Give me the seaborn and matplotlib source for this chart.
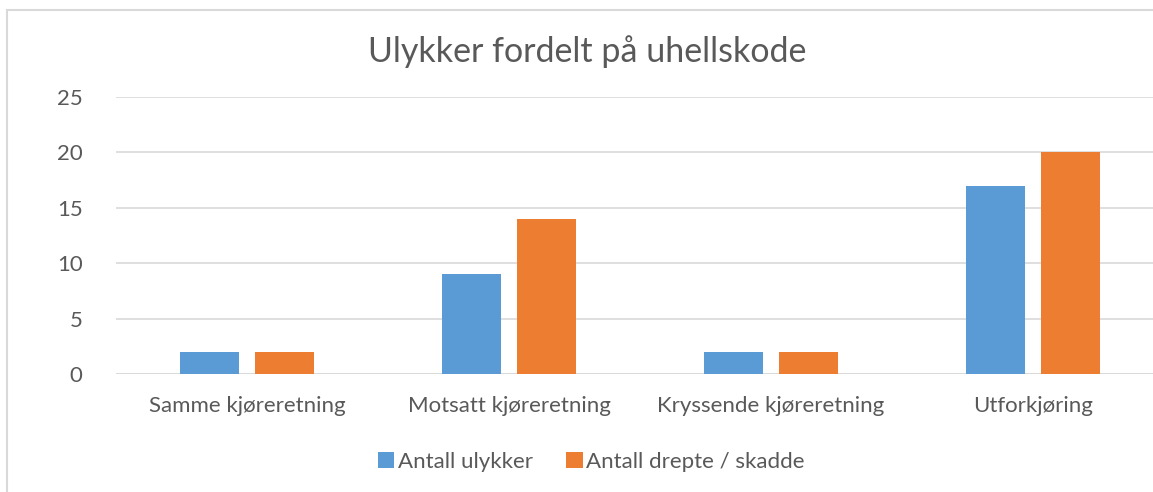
import matplotlib
matplotlib.use("Agg")
import matplotlib.pyplot as plt
from matplotlib.patches import Rectangle
import seaborn as sns
import pandas as pd

categories = ["Samme kjøreretning", "Motsatt kjøreretning", "Kryssende kjøreretning", "Utforkjøring"]
series_names = ["Antall ulykker", "Antall drepte / skadde"]
antall_ulykker = [2, 9, 2, 17]
antall_drepte_skadde = [2, 14, 2, 20]
y_ticks = [0, 5, 10, 15, 20, 25]

df = pd.DataFrame({
    "kategori": categories * 2,
    "serie": [series_names[0]] * 4 + [series_names[1]] * 4,
    "verdi": antall_ulykker + antall_drepte_skadde,
})

sns.set_style("white")
plt.rcParams["font.family"] = ["Lato", "DejaVu Sans"]
text_color = "#595959"

fig = plt.figure(figsize=(11.53, 4.92), dpi=100)
W, H = 1153, 492
# chart frame (cropped at right/bottom edge like the reference)
fig.patches.append(Rectangle((7 / W, -0.1), 1.2, 1 - 10 / H + 0.1, transform=fig.transFigure,
                             fill=False, edgecolor="#d9d9d9", linewidth=1.5))

ax = fig.add_axes([116 / W, 1 - 374 / H, 1048 / W, 277 / H])
sns.barplot(data=df, x="kategori", y="verdi", hue="serie", ax=ax,
            palette=["#5b9bd5", "#ed7d31"], width=0.57, gap=0.21, saturation=1,
            linewidth=0, edgecolor="none")

ax.set_ylim(0, 25)
ax.set_yticks(y_ticks)
ax.set_xlim(-0.5, 3.5)
ax.yaxis.grid(True, color="#d9d9d9", linewidth=1.2)
ax.set_axisbelow(True)
for s in ax.spines.values():
    s.set_visible(False)
ax.axhline(0, color="#d9d9d9", linewidth=1.2, zorder=0)
ax.set_xlabel("")
ax.set_ylabel("")
ax.tick_params(axis="both", length=0, labelsize=16, colors=text_color)
ax.tick_params(axis="x", pad=16)
ax.tick_params(axis="y", pad=24)

fig.text(587 / W, 1 - 52 / H, "Ulykker fordelt på uhellskode", ha="center", va="center",
         fontsize=24.5, color=text_color)

ax.legend_.remove()
handles, labels = ax.get_legend_handles_labels()
fig.legend(handles, labels, loc="center", bbox_to_anchor=(591 / W, 1 - 462 / H), ncol=2,
           frameon=False, fontsize=16, labelcolor=text_color, handlelength=0.75, handleheight=0.75,
           handletextpad=0.15, columnspacing=1.5)

fig.savefig("out.png", dpi=100)
